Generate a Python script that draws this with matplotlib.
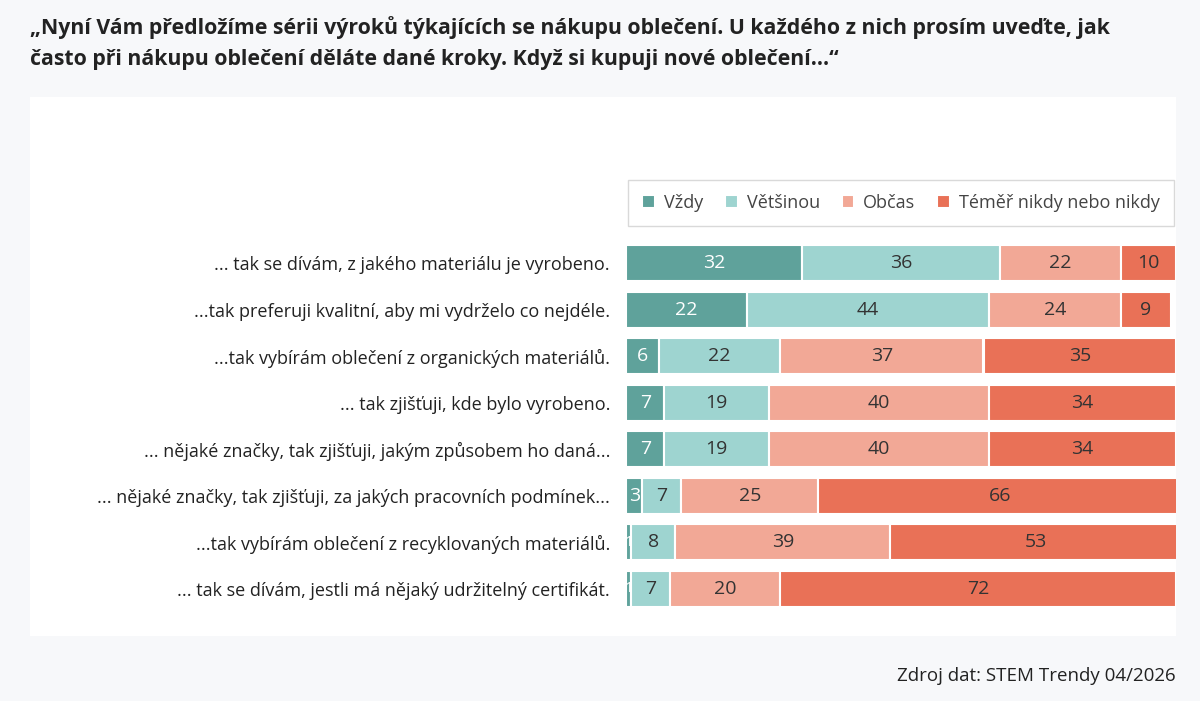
import matplotlib.pyplot as plt
import numpy as np

categories = [
    '... tak se dívám, z jakého materiálu je vyrobeno.',
    '...tak preferuji kvalitní, aby mi vydrželo co nejdéle.',
    '...tak vybírám oblečení z organických materiálů.',
    '... tak zjišťuji, kde bylo vyrobeno.',
    '... nějaké značky, tak zjišťuji, jakým způsobem ho daná...',
    '... nějaké značky, tak zjišťuji, za jakých pracovních podmínek...',
    '...tak vybírám oblečení z recyklovaných materiálů.',
    '... tak se dívám, jestli má nějaký udržitelný certifikát.',
]
series = ['Vždy', 'Většinou', 'Občas', 'Téměř nikdy nebo nikdy']
vzdy = [32, 22, 6, 7, 7, 3, 1, 1]
vetsinou = [36, 44, 22, 19, 19, 7, 8, 7]
obcas = [22, 24, 37, 40, 40, 25, 39, 20]
nikdy = [10, 9, 35, 34, 34, 66, 53, 72]
colors = ['#5fa29b', '#9ed4d0', '#f2a896', '#e97157']
text_colors = ['white', '#333333', '#333333', '#333333']

plt.rcParams['font.family'] = ['Open Sans', 'DejaVu Sans']
fig = plt.figure(figsize=(12, 7.01), dpi=100, facecolor='#f7f8fa')

# white panel behind the chart
panel = fig.add_axes([30 / 1200, 1 - 636 / 701, 1146 / 1200, 539 / 701], zorder=-1)
panel.set_facecolor('white')
panel.set_xticks([])
panel.set_yticks([])
for s in panel.spines.values():
    s.set_visible(False)

fig.text(30 / 1200, 1 - 28 / 701,
         '„Nyní Vám předložíme sérii výroků týkajících se nákupu oblečení. U každého z nich prosím uveďte, jak',
         fontsize=15.3, fontweight='bold', color='#222222', va='center')
fig.text(30 / 1200, 1 - 60 / 701,
         'často při nákupu oblečení děláte dané kroky. Když si kupuji nové oblečení...“',
         fontsize=15.3, fontweight='bold', color='#222222', va='center')
fig.text(1176 / 1200, 1 - 676 / 701, 'Zdroj dat: STEM Trendy 04/2026',
         fontsize=13.5, color='#222222', ha='right', va='center')

ax = fig.add_axes([626 / 1200, 1 - 612 / 701, 550 / 1200, 372 / 701], zorder=1)
y = np.arange(len(categories))
left = np.zeros(len(categories))
for name, vals, c, tc in zip(series, [vzdy, vetsinou, obcas, nikdy], colors, text_colors):
    vals = np.array(vals)
    ax.barh(y, vals, left=left, height=0.78, color=c, edgecolor='white', linewidth=1.5, label=name)
    for yi, l, v in zip(y, left, vals):
        ax.text(l + v / 2, yi, str(v), ha='center', va='center', color=tc,
                fontsize=14 if v > 2 else 11)
    left += vals
ax.set_xlim(0, 100)
ax.set_ylim(len(categories) - 0.5, -0.5)
ax.set_yticks(y)
ax.set_yticklabels(categories, fontsize=13, color='#222222')
ax.tick_params(left=False, bottom=False, labelbottom=False, pad=8)
for s in ax.spines.values():
    s.set_visible(False)
ax.set_facecolor('none')

leg = fig.legend(loc='center', bbox_to_anchor=(901 / 1200, 1 - 203 / 701), ncol=4, frameon=True,
                 fontsize=13, handlelength=0.7, handleheight=0.7, handletextpad=0.5,
                 columnspacing=1.2, fancybox=False, borderpad=0.8)
leg.get_frame().set_edgecolor('#d0d0d0')
for t in leg.get_texts():
    t.set_color('#444444')

fig.savefig('out.png', dpi=100, facecolor=fig.get_facecolor())
